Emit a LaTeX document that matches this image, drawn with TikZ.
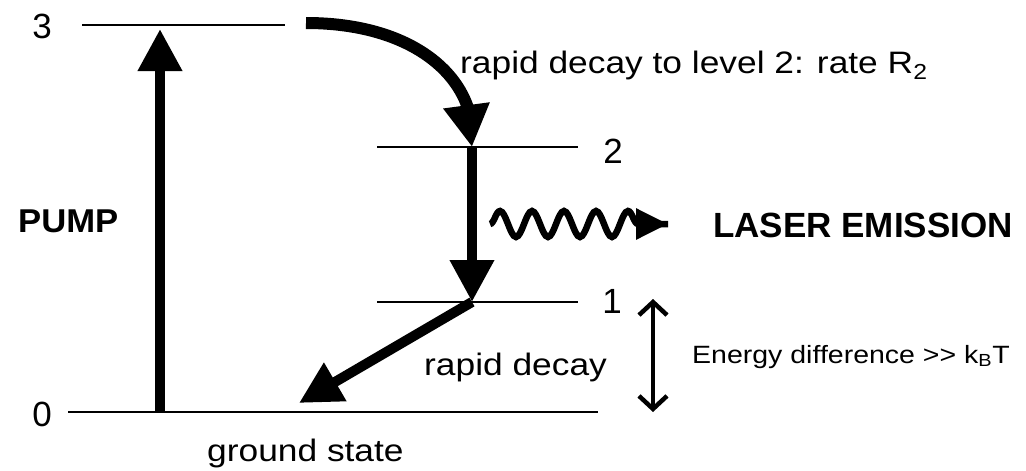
\documentclass[tikz,border=0pt]{standalone}
\usepackage{fontspec}
\setmainfont{Liberation Sans}
\usetikzlibrary{arrows.meta,decorations.pathmorphing}
\newcommand{\wide}[1]{\scalebox{1.14}[1]{#1}}
\begin{document}
\begin{tikzpicture}[x=1pt,y=-1pt,
  level/.style={line width=1.8pt},
  thick arrow/.style={line width=10pt,-{Triangle[length=42pt,width=42pt]}},
  lbl/.style={font=\fontsize{31}{36}\selectfont,inner sep=0pt,anchor=base west},
  dig/.style={font=\fontsize{35}{40}\selectfont,inner sep=0pt,anchor=base},
  blbl/.style={font=\fontsize{35}{40}\selectfont\bfseries,inner sep=0pt,anchor=base west}]
\useasboundingbox (0,0) rectangle (1026,471);
% levels
\draw[level] (82,25) -- (285,25);
\draw[level] (377,147) -- (578,147);
\draw[level] (377,302) -- (578,302);
\draw[level] (68,412) -- (598,412);
% points
\coordinate (p0) at (160,412);
\coordinate (p3) at (160,29);
\coordinate (c3) at (306,23);
\coordinate (c2) at (472,147);
\coordinate (c1) at (472,302);
\coordinate (g) at (299,403);
\coordinate (w0) at (490,224);
\coordinate (w1) at (668,224);
\coordinate (e1) at (653,299);
\coordinate (e0) at (653,412);
% labels
\node[dig] (n3) at (42,38) {3};
\node[dig] (n2) at (613,163) {2};
\node[dig] (n1) at (612,313) {1};
\node[dig] (n0) at (42,426) {0};
\node[lbl] (rd2) at (460,73) {\wide{rapid decay to level 2: rate R\textsubscript{2}}};
\node[blbl,font=\fontsize{33}{38}\selectfont\bfseries] (pump) at (18,232) {\scalebox{1.05}[1]{PUMP}};
\node[blbl] (laser) at (713,237) {LASER EMISSION};
\node[lbl] (rd) at (424,375) {\wide{rapid decay}};
\node[lbl] (gs) at (207,461) {\wide{ground state}};
\node[lbl,font=\fontsize{25}{29}\selectfont] (ed) at (692,363) {\wide{Energy difference >{}> k\textsubscript{B}T}};
% arrows
\draw[thick arrow] (p0) -- (p3);
\draw[line width=12pt,line cap=butt] (c3) .. controls (395,23) and (452,60) .. (468,108);
\draw[line width=11pt,-{Triangle[length=42pt,width=44pt]}] (466,102) -- (c2);
\draw[thick arrow] (c2) -- (c1);
\draw[thick arrow] (c1) -- (g);
\draw[line width=6.5pt,decorate,decoration={snake,segment length=32pt,amplitude=13pt,post length=30pt}] (w0) -- (w1);
\draw[line width=6pt,-{Triangle[length=32pt,width=30pt]}] (636,224) -- (w1);
\draw[line width=4.5pt,{Straight Barb[length=13pt,width=28pt]}-{Straight Barb[length=13pt,width=28pt]}] (e1) -- (e0);
\end{tikzpicture}
\end{document}
